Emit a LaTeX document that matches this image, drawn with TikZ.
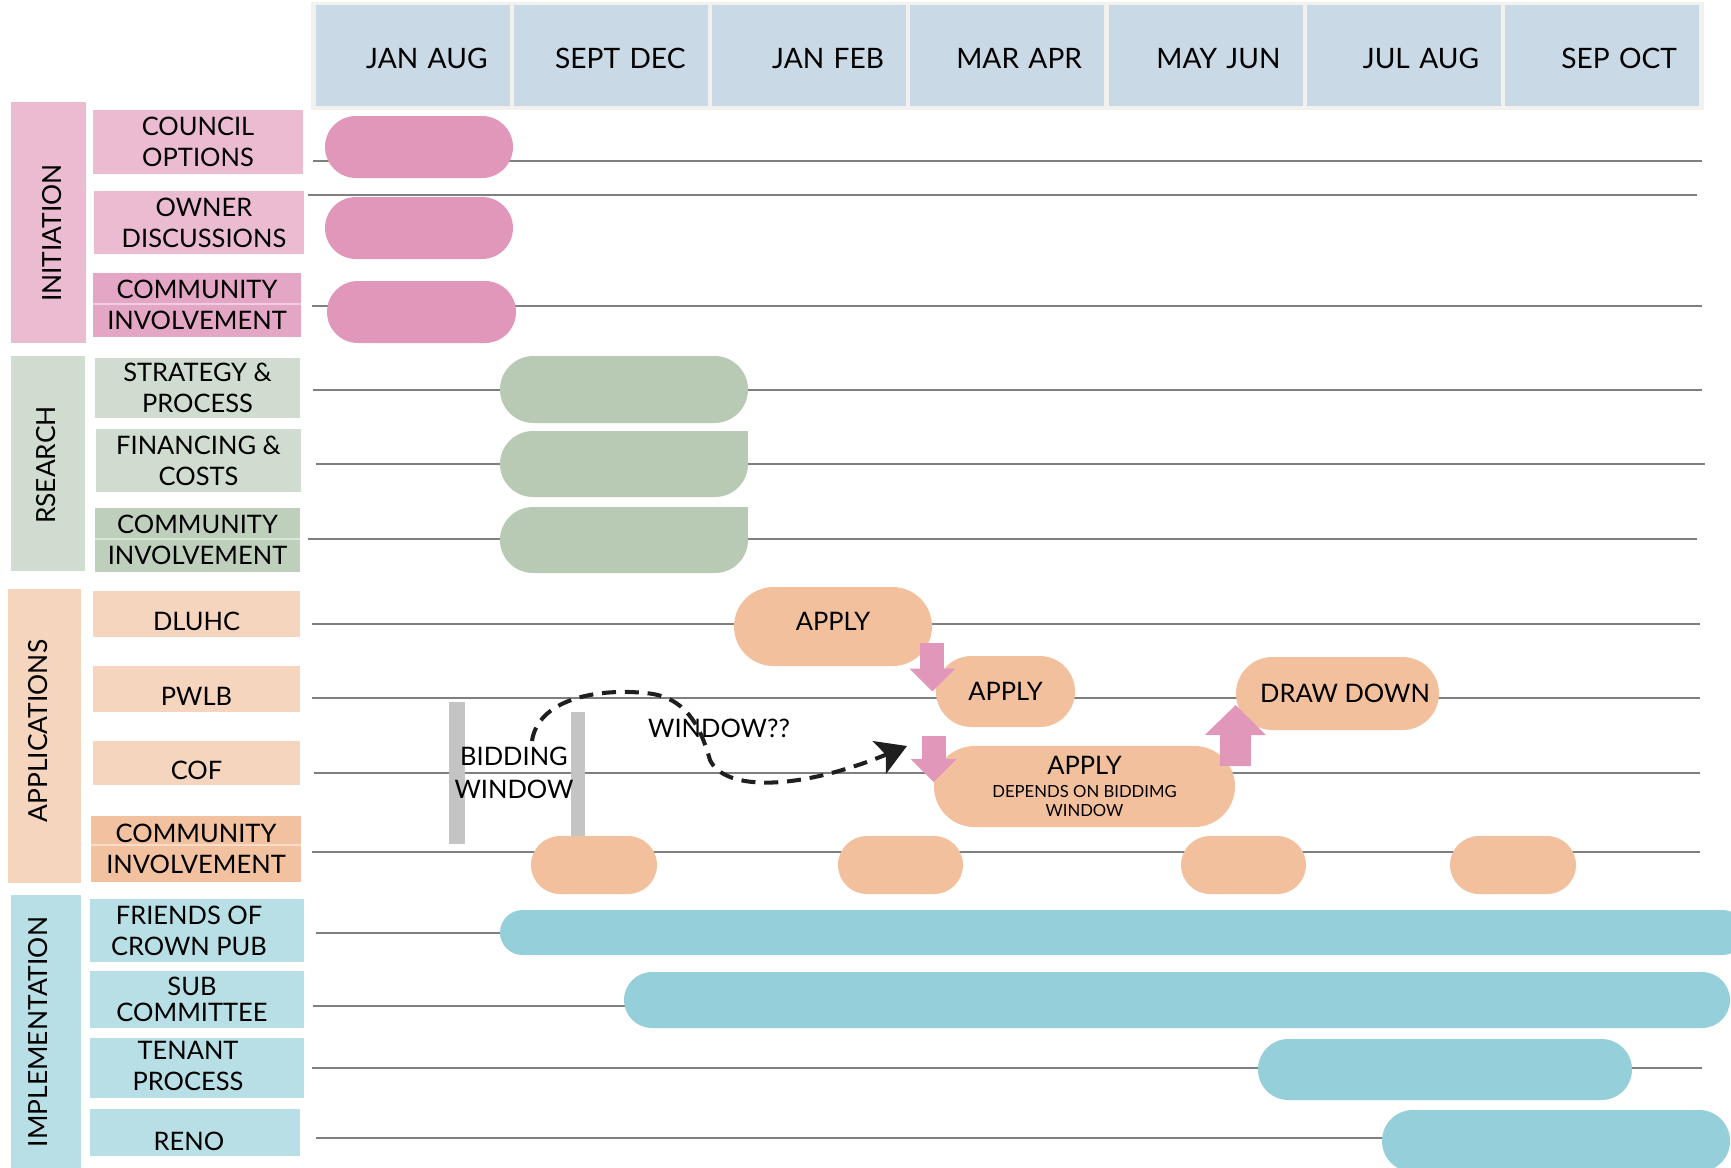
\documentclass[tikz,border=0pt]{standalone}
\usepackage{fontspec}
\setmainfont{Lato}
\usetikzlibrary{arrows.meta}
\definecolor{headframe}{HTML}{F3F1EE}
\definecolor{headcell}{HTML}{C9D9E5}
\definecolor{gridgrey}{HTML}{7F7F7F}
\definecolor{pinklight}{HTML}{EBBBD1}
\definecolor{pinkmid}{HTML}{E4A6C5}
\definecolor{pinkbar}{HTML}{E197BA}
\definecolor{greenlight}{HTML}{D0DCCF}
\definecolor{greenmid}{HTML}{BED0BC}
\definecolor{greenbar}{HTML}{B8C9B4}
\definecolor{peachlight}{HTML}{F5D5BE}
\definecolor{peachmid}{HTML}{F2C19F}
\definecolor{peachbar}{HTML}{F2C09C}
\definecolor{bluelight}{HTML}{B7DFE5}
\definecolor{bluebar}{HTML}{94CFDA}
\definecolor{windowgrey}{HTML}{C4C4C4}
\definecolor{dashblack}{HTML}{1F1F1F}
\tikzset{wh/.style 2 args={minimum width=#1*0.02cm, minimum height=#2*0.02cm}}
\tikzset{grid line/.style={draw=gridgrey, line width=1.2pt}}
\tikzset{hcell/.style={fill=headcell, wh={194}{101}, inner sep=0pt, text width=3cm, text height=14.3pt, text depth=0pt, align=right, font=\fontsize{16}{19}\selectfont}}
\tikzset{lab/.style={inner sep=0pt, align=center, font=\fontsize{14.5}{17.6}\selectfont}}
\tikzset{phase/.style={inner sep=0pt, rotate=90, font=\fontsize{15}{18}\selectfont}}
\tikzset{bar/.style n args={3}{fill=#1, wh={#2}{#3}, rounded corners=#3*0.01cm, inner sep=0pt, lab}}
\tikzset{pink arrow/.style n args={3}{draw=pinkbar, line width=#1, -{Triangle[length=#2, width=#3, line width=0pt]}}}
\tikzset{window loop/.style={draw=dashblack, line width=2.3pt, dash pattern=on 8pt off 5pt, -{Stealth[length=17pt, width=20pt, inset=4pt]}}}

\begin{document}
\begin{tikzpicture}[x=0.02cm, y=-0.02cm]
\useasboundingbox (0,0) rectangle (1731,1167);
\clip (0,0) rectangle (1731,1167);

% months
\fill[headframe] (311,2) rectangle (1704,110);
\node[hcell] (janaug) at (412.5,55.5) {JAN AUG};
\node[hcell] (septdec) at (610.5,55.5) {SEPT DEC};
\node[hcell] (janfeb) at (809,55.5) {JAN FEB};
\node[hcell] (marapr) at (1007,55.5) {MAR APR};
\node[hcell] (mayjun) at (1205.5,55.5) {MAY JUN};
\node[hcell] (julaug) at (1404,55.5) {JUL AUG};
\node[hcell] (sepoct) at (1602,55.5) {SEP OCT};

% timeline rows
\foreach \y/\xa/\xb in {161/313/1702, 195/308/1697, 306/312/1702, 390/313/1702, 464/316/1705, 539/308/1697, 624/312/1700, 698/312/1700, 773/314/1700, 852/312/1700, 933/316/1700, 1006/313/1700, 1068/312/1702, 1138/316/1700}
  \draw[grid line] (\xa,\y) -- (\xb,\y);

% initiation
\node[fill=pinklight, wh={75}{241}] (initbox) at (48.5,222.5) {};
\node[phase] (inittext) at (52,233) {INITIATION};
\node[lab, fill=pinklight, wh={210}{64}] (council) at (198,142) {COUNCIL\\OPTIONS};
\node[fill=pinklight, wh={210}{63}] (owner) at (199,222.5) {};
\node[lab] (ownertext) at (204,222.5) {OWNER\\DISCUSSIONS};
\node[lab, fill=pinkmid, wh={208}{64}] (initcomm) at (197,305) {COMMUNITY\\INVOLVEMENT};
\draw[white!45!pinkmid, line width=1.5pt] (initcomm.west |- 0,304) -- (initcomm.east |- 0,304);
\node[bar={pinkbar}{188}{62}] (councilbar) at (419,147) {};
\node[bar={pinkbar}{188}{62}] (ownerbar) at (419,228) {};
\node[bar={pinkbar}{189}{62}] (initcommbar) at (421.5,312) {};

% research
\node[fill=greenlight, wh={74}{215}] (resbox) at (48,463.5) {};
\node[phase] (restext) at (46,465) {RSEARCH};
\node[lab, fill=greenlight, wh={205}{60}] (strategy) at (197.5,388) {STRATEGY \&\\PROCESS};
\node[lab, fill=greenlight, wh={205}{63}] (financing) at (198.5,460.5) {FINANCING \&\\COSTS};
\node[lab, fill=greenmid, wh={205}{64}] (rescomm) at (197.5,540) {COMMUNITY\\INVOLVEMENT};
\draw[white!45!greenmid, line width=1.5pt] (rescomm.west |- 0,539) -- (rescomm.east |- 0,539);
\node[bar={greenbar}{248}{67}] (strategybar) at (624,389.5) {};
\node[bar={greenbar}{248}{66}] (financingbar) at (624,464) {};
\fill[greenbar] (700,431) rectangle (748,464);
\node[bar={greenbar}{248}{66}] (rescommbar) at (624,540) {};
\fill[greenbar] (700,507) rectangle (748,540);

% applications
\node[fill=peachlight, wh={73}{294}] (appbox) at (44.5,736) {};
\node[phase] (apptext) at (38,731) {APPLICATIONS};
\node[fill=peachlight, wh={207}{46}] (dluhc) at (196.5,614) {};
\node[lab] (dluhctext) at (196.5,621) {DLUHC};
\node[fill=peachlight, wh={207}{46}] (pwlb) at (196.5,689) {};
\node[lab] (pwlbtext) at (196.5,696) {PWLB};
\node[fill=peachlight, wh={207}{44}] (cof) at (196.5,763) {};
\node[lab] (coftext) at (196.5,770) {COF};
\node[lab, fill=peachmid, wh={210}{66}] (appcomm) at (196,849) {COMMUNITY\\INVOLVEMENT};
\draw[white!45!peachmid, line width=1.5pt] (appcomm.west |- 0,845) -- (appcomm.east |- 0,845);

\fill[windowgrey] (449,702) rectangle (465,844);
\fill[windowgrey] (571,712) rectangle (585,836);
\node[lab, font=\fontsize{14.5}{19}\selectfont] (bidwin) at (514,773) {BIDDING\\WINDOW};
\node[lab] (windowq) at (719,728) {WINDOW??};

\node[bar={peachbar}{198}{79}, text depth=6pt] (dluhcapply) at (833,626.5) {APPLY};
\node[bar={peachbar}{139}{71}] (pwlbapply) at (1005.5,691.5) {APPLY};
\node[bar={peachbar}{301}{81}, font=\fontsize{9.5}{10.8}\selectfont] (cofapply) at (1084.5,786.5)
  {{\fontsize{14.5}{16}\selectfont APPLY}\\[2pt]DEPENDS ON BIDDIMG\\WINDOW};
\node[bar={peachbar}{203}{73}] (drawdown) at (1337.5,693.5) {\hspace*{0.3cm}DRAW DOWN};
\node[bar={peachbar}{126}{58}] (commone) at (594,865) {};
\node[bar={peachbar}{125}{58}] (commtwo) at (900.5,865) {};
\node[bar={peachbar}{125}{58}] (commthree) at (1243.5,865) {};
\node[bar={peachbar}{126}{58}] (commfour) at (1513,865) {};

\draw[pink arrow={0.48cm}{0.46cm}{0.92cm}] ([yshift=-0.32cm]dluhcapply.east) -- (dluhcapply.east |- pwlbapply.west);
\draw[pink arrow={0.48cm}{0.46cm}{0.92cm}] ([yshift=1.01cm]cofapply.west) -- ([yshift=0.09cm]cofapply.west);
\draw[pink arrow={0.62cm}{0.6cm}{1.22cm}] ([yshift=0.41cm]cofapply.east) -- ([yshift=-0.23cm]drawdown.west);

\coordinate (loopstart) at (532,741);
\coordinate (looptip) at (907,746);
\draw[window loop] (loopstart) .. controls (538,700) and (595,688) .. (645,693)
  .. controls (685,696) and (700,725) .. (710,760)
  .. controls (725,792) and (800,790) .. (looptip);

% implementation
\node[fill=bluelight, wh={70}{280}] (impbox) at (46,1035) {};
\node[phase] (imptext) at (38,1032) {IMPLEMENTATION};
\node[fill=bluelight, wh={214}{63}] (friends) at (197,930.5) {};
\node[lab] (friendstext) at (189,930.5) {FRIENDS OF\\CROWN PUB};
\node[fill=bluelight, wh={214}{57}] (sub) at (197,999.5) {};
\node[lab, font=\fontsize{14.5}{15}\selectfont] (subtext) at (192,999.5) {SUB\\COMMITTEE};
\node[fill=bluelight, wh={214}{60}] (tenant) at (197,1068) {};
\node[lab] (tenanttext) at (188,1066) {TENANT\\PROCESS};
\node[fill=bluelight, wh={210}{47}] (reno) at (195,1132.5) {};
\node[lab] (renotext) at (189,1141) {RENO};
\node[bar={bluebar}{1245}{45}] (friendsbar) at (1122.5,932.5) {};
\node[bar={bluebar}{1106}{56}] (subbar) at (1177,1000) {};
\node[bar={bluebar}{374}{61}] (tenantbar) at (1445,1069.5) {};
\node[bar={bluebar}{348}{62}] (renobar) at (1556,1141) {};
\end{tikzpicture}
\end{document}
